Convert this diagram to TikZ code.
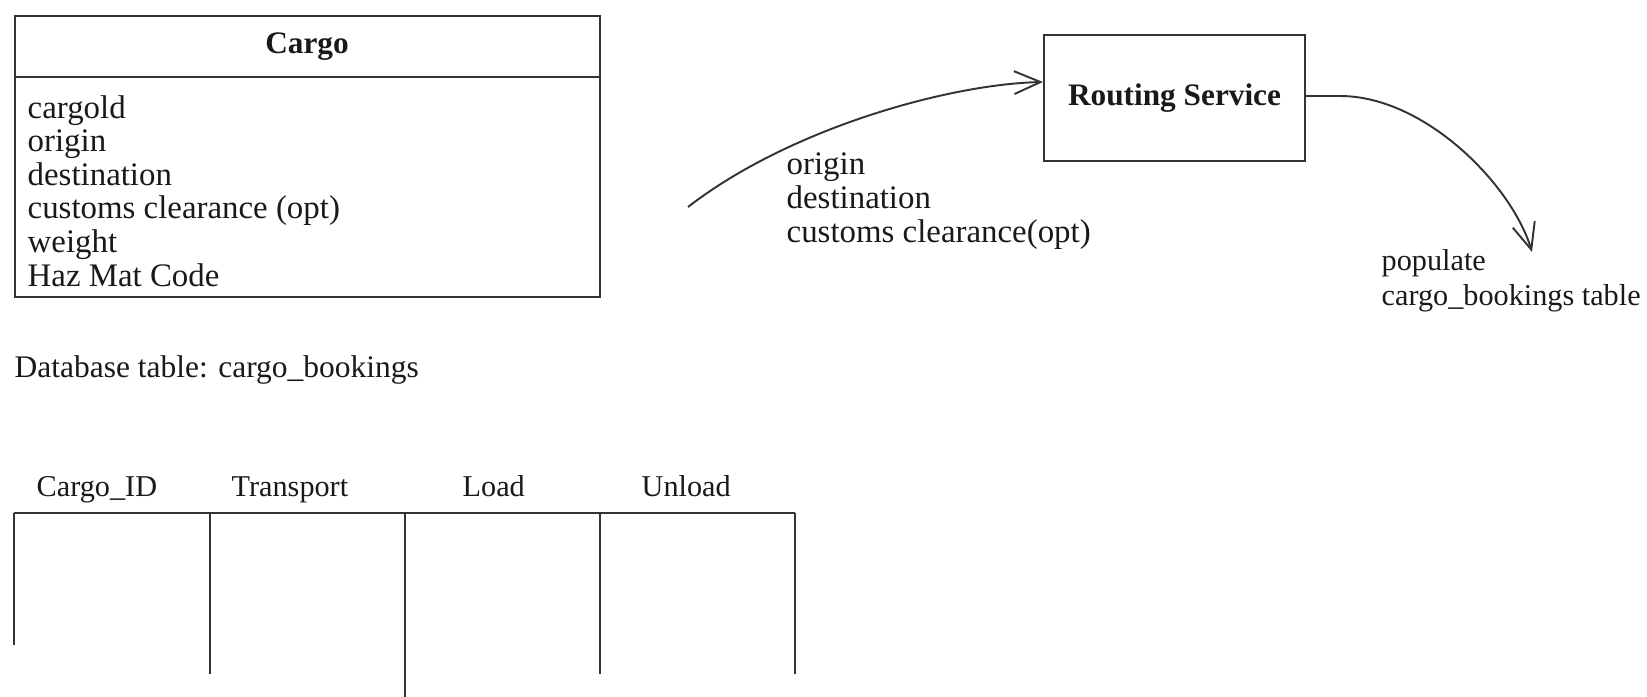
\documentclass[tikz,border=0pt]{standalone}
\usepackage{fontspec}
\setmainfont{Liberation Serif}
\usetikzlibrary{arrows.meta}
\tikzset{
  lbl/.style={font=\fontsize{8.6}{9.4}\selectfont, inner sep=0pt, anchor=base west, text=black!90},
  biglbl/.style={lbl, font=\fontsize{9.35}{10}\selectfont},
  midlbl/.style={lbl, font=\fontsize{8.95}{10}\selectfont},
  ttl/.style={font=\fontsize{8.9}{9.4}\selectfont\bfseries, inner sep=0pt, text=black!90},
  ln/.style={line width=0.55pt, draw=black!80},
  arr/.style={ln, -{Straight Barb[length=7.5pt,width=6.5pt]}}
}
\begin{document}
\begin{tikzpicture}[x=0.01cm, y=-0.01cm]
\useasboundingbox (0,0) rectangle (1647,697);
% Cargo class box
\node (cargo) [ln, draw, inner sep=0pt, minimum width=5.85cm, minimum height=2.81cm, anchor=north west] at (14,15) {};
\draw[ln] (cargo.west |- 0,77) -- (cargo.east |- 0,77);
\node (cargotitle) [ttl] at (307,47) {Cargo};
\node (a1) [biglbl] at (27,118) {cargold};
\node (a2) [biglbl] at (27,151.6) {origin};
\node (a3) [biglbl] at (27,185.2) {destination};
\node (a4) [biglbl] at (27,218.8) {customs clearance (opt)};
\node (a5) [biglbl] at (27,252.4) {weight};
\node (a6) [biglbl] at (27,286) {Haz Mat Code};
% Routing service
\node (rs) [ln, draw, ttl, minimum width=2.61cm, minimum height=1.26cm, anchor=north west] at (1043,34) {Routing Service};
% arrow into routing service
\coordinate (a1start) at (688,207);
\draw[arr] (a1start) .. controls (790,128) and (950,84) .. (rs.west |- 0,82);
\node (l1a) [biglbl] at (786,175) {origin};
\node (l1b) [biglbl] at (786,208.5) {destination};
\node (l1c) [biglbl] at (786,242) {customs clearance(opt)};
% arrow out of routing service
\coordinate (a2end) at (1532,252);
\draw[arr] (rs.east |- 0,96) -- (1340,96) .. controls (1425,96) and (1512,185) .. (a2end);
\node (l2a) [lbl] at (1381,270) {populate};
\node (l2b) [lbl] at (1381,305) {cargo\_bookings table};
% database table
\node (dbt) [midlbl] at (14,377) {Database table: cargo\_bookings};
\node (h1) [lbl] at (36,496) {Cargo\_ID};
\node (h2) [lbl] at (231,496) {Transport};
\node (h3) [lbl] at (462,496) {Load};
\node (h4) [lbl] at (641,496) {Unload};
\coordinate (t0) at (14,513);
\coordinate (t4) at (795,513);
\draw[ln] (t0) -- (t4);
\draw[ln] (t0) -- (14,645);
\draw[ln] (210,513) -- (210,674);
\draw[ln] (405,513) -- (405,697);
\draw[ln] (600,513) -- (600,674);
\draw[ln] (t4) -- (795,674);
\end{tikzpicture}
\end{document}
